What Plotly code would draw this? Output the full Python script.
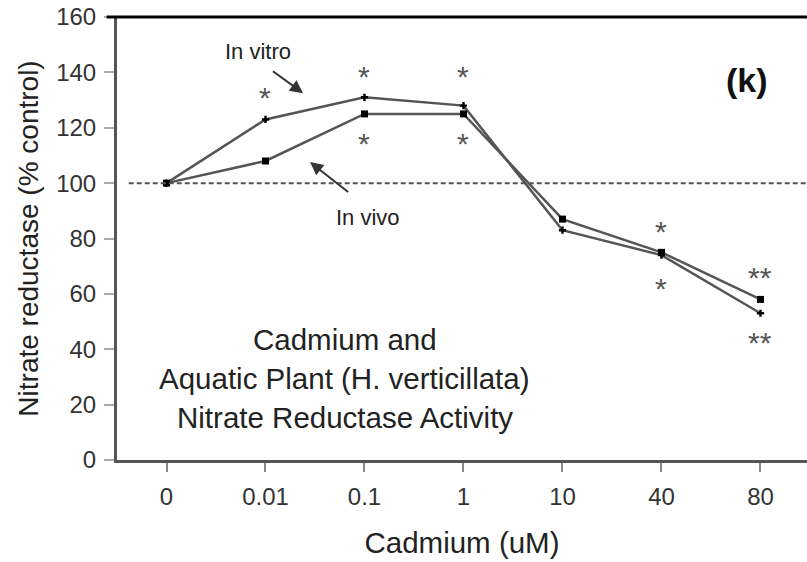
import plotly.graph_objects as go

categories = ["0", "0.01", "0.1", "1", "10", "40", "80"]
in_vitro = [100, 123, 131, 128, 83, 74, 53]
in_vivo = [100, 108, 125, 125, 87, 75, 58]

# significance marks (category index, value level, text)
sig_x = [1, 2, 3, 2, 3, 5, 5, 6, 6]
sig_y = [132, 139.5, 139.5, 115.5, 115.5, 83.5, 63, 67, 43.5]
sig_text = ["*", "*", "*", "*", "*", "*", "*", "**", "**"]

y_ticks = [0, 20, 40, 60, 80, 100, 120, 140, 160]
FONT = "Liberation Sans, Arial, sans-serif"

fig = go.Figure()

fig.add_trace(go.Scatter(
    x=list(range(len(categories))), y=in_vitro, mode="lines+markers",
    line=dict(color="#555555", width=2.5),
    marker=dict(symbol="cross", size=6, color="black"),
    name="In vitro", showlegend=False))
fig.add_trace(go.Scatter(
    x=list(range(len(categories))), y=in_vivo, mode="lines+markers",
    line=dict(color="#555555", width=2.5),
    marker=dict(symbol="square", size=7, color="black"),
    name="In vivo", showlegend=False))

annotations = []
for sx, sy, st in zip(sig_x, sig_y, sig_text):
    annotations.append(dict(x=sx, y=sy, text=st, showarrow=False,
                            font=dict(family=FONT, size=30, color="#555555"),
                            yshift=-3))

# labels with arrows
annotations += [
    dict(x=0.924, y=147.7, text="In vitro", showarrow=False,
         font=dict(family=FONT, size=22, color="#222222")),
    dict(x=1.38, y=132.5, ax=1.06, ay=140.8, axref="x", ayref="y", text="",
         showarrow=True, arrowhead=2, arrowsize=1.3, arrowwidth=2, arrowcolor="#333333"),
    dict(x=2.035, y=87.7, text="In vivo", showarrow=False,
         font=dict(family=FONT, size=22, color="#222222")),
    dict(x=1.45, y=107.6, ax=1.85, ay=96.4, axref="x", ayref="y", text="",
         showarrow=True, arrowhead=2, arrowsize=1.3, arrowwidth=2, arrowcolor="#333333"),
    dict(x=5.86, y=137.2, text="<b>(k)</b>", showarrow=False,
         font=dict(family=FONT, size=34, color="#111111")),
    dict(x=1.80, y=43.7, text="Cadmium and", showarrow=False,
         font=dict(family=FONT, size=29.5, color="#222222")),
    dict(x=1.80, y=29.6, text="Aquatic Plant (H. verticillata)", showarrow=False,
         font=dict(family=FONT, size=29.5, color="#222222")),
    dict(x=1.80, y=15.2, text="Nitrate Reductase Activity", showarrow=False,
         font=dict(family=FONT, size=29.5, color="#222222")),
]

fig.update_layout(
    width=807, height=562,
    margin=dict(l=117, r=0, t=17, b=102, autoexpand=False),
    paper_bgcolor="white", plot_bgcolor="white",
    font=dict(family=FONT, color="#333333"),
    annotations=annotations,
    shapes=[
        dict(type="line", xref="paper", yref="y", x0=0.017, x1=1, y0=100, y1=100,
             line=dict(color="#555555", width=2, dash="5px,3px")),
        dict(type="line", xref="paper", yref="paper", x0=-0.015, x1=1, y0=1, y1=1,
             line=dict(color="black", width=3)),
    ],
)

fig.update_xaxes(
    automargin=False,
    range=[-0.5, 6.47], tickmode="array", tickvals=list(range(len(categories))),
    ticktext=categories, ticks="outside", ticklen=9, tickwidth=2, tickcolor="#888888",
    tickson="boundaries", showgrid=False, zeroline=False,
    showline=True, linecolor="#555555", linewidth=3,
    tickfont=dict(family=FONT, size=24, color="#333333"),
    ticklabelstandoff=4,
    title=dict(text="Cadmium (uM)", font=dict(family=FONT, size=29.5, color="#222222"),
               standoff=24),
)
fig.update_yaxes(
    automargin=False,
    range=[0, 160], tickvals=y_ticks, ticks="outside", ticklen=10, tickwidth=2,
    tickcolor="#aaaaaa", showgrid=False, zeroline=False,
    showline=True, linecolor="#555555", linewidth=3,
    tickfont=dict(family=FONT, size=24, color="#333333"),
    ticklabelstandoff=3,
    title=dict(text="Nitrate reductase (% control)",
               font=dict(family=FONT, size=28, color="#222222"), standoff=10),
)

fig.write_html("out.html", config={"displayModeBar": False},
               post_script="document.body.style.margin='0';document.body.style.overflow='hidden';")
